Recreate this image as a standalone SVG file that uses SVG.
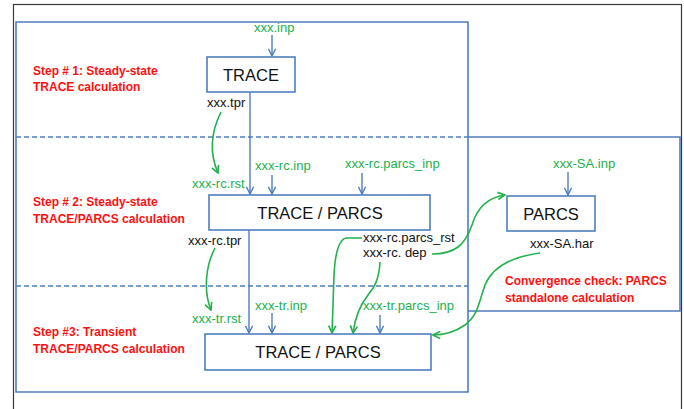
<svg xmlns="http://www.w3.org/2000/svg" width="684" height="409" viewBox="0 0 684 409">
<defs>
<style>
.frame{fill:none;stroke:#3a3a3a;stroke-width:1.2}
.blue{fill:none;stroke:#4f7dbd;stroke-width:1.6}
.dash{fill:none;stroke:#4f7dbd;stroke-width:1.6;stroke-dasharray:5 3}
.box{fill:#fff;stroke:#4f7dbd;stroke-width:1.6}
.ba{fill:none;stroke:#4f7dbd;stroke-width:1.4;marker-end:url(#ab)}
.ga{fill:none;stroke:#22b14c;stroke-width:1.6;marker-end:url(#ag)}
.bt{font-family:"Liberation Sans",Arial,sans-serif;font-size:16.5px;fill:#111;text-anchor:middle}
.g{font-family:"Liberation Sans",Arial,sans-serif;font-size:13px;fill:#22b14c}
.k{font-family:"Liberation Sans",Arial,sans-serif;font-size:13px;fill:#111}
.r{font-family:"Liberation Sans",Arial,sans-serif;font-size:12px;font-weight:bold;fill:#ff1010}
</style>
<marker id="ab" viewBox="0 0 10 10" refX="9" refY="5" markerWidth="9" markerHeight="9" markerUnits="userSpaceOnUse" orient="auto">
<path d="M1,1 L9,5 L1,9" fill="none" stroke="#4f7dbd" stroke-width="1.6"/>
</marker>
<marker id="ag" viewBox="0 0 10 10" refX="9" refY="5" markerWidth="9" markerHeight="9" markerUnits="userSpaceOnUse" orient="auto">
<path d="M1,1 L9,5 L1,9" fill="none" stroke="#22b14c" stroke-width="1.8"/>
</marker>
</defs>
<rect x="0" y="0" width="684" height="409" fill="#fff"/>
<rect class="frame" x="13.5" y="4.5" width="668" height="420"/>
<g id="frames">
<path class="blue" d="M16,22 H468 V392 H16 Z"/>
<path class="blue" d="M468,137 H680 V311 H468"/>
<path class="dash" d="M16,137 H468"/>
<path class="dash" d="M16,286 H468"/>
</g>
<g id="steps">
<text class="r" x="33" y="75">Step # 1: Steady-state</text>
<text class="r" x="33" y="91">TRACE calculation</text>
<text class="r" x="33" y="206">Step # 2: Steady-state</text>
<text class="r" x="33" y="223">TRACE/PARCS calculation</text>
<text class="r" x="33" y="336">Step #3: Transient</text>
<text class="r" x="33" y="353">TRACE/PARCS calculation</text>
<text class="r" x="505" y="285">Convergence check: PARCS</text>
<text class="r" x="505" y="302">standalone calculation</text>
</g>
<g id="connectors">
<path class="ba" d="M272,35 V56"/>
<path class="ba" d="M250,92 V194"/>
<path class="ba" d="M272,175 V194"/>
<path class="ba" d="M362,173 V194"/>
<path class="ba" d="M568,172 V195"/>
<path class="ba" d="M249,230 V333"/>
<path class="ba" d="M272,313 V333"/>
<path class="ba" d="M380,315 V333"/>
<path class="ga" d="M221,112 C212,130 208,150 218,173"/>
<path class="ga" d="M215,248 C206,265 203,290 211,310"/>
<path class="ga" d="M362,238 L346,238 C338,240 335,255 334,275 L332,333"/>
<path class="ga" d="M380,262 C379,280 374,288 368,295 C360,305 355,318 353,333"/>
<path class="ga" d="M432,254 C455,254 465,245 472,225 C478,205 490,197 505,195"/>
<path class="ga" d="M540,253 C510,257 492,268 485,285 C478,305 478,315 465,325 C455,332 445,335 433,335"/>
</g>
<g id="trace">
<rect class="box" x="207" y="57" width="88" height="35"/>
<text class="bt" x="251" y="81">TRACE</text>
</g>
<g id="tp1">
<rect class="box" x="209" y="195" width="221" height="35"/>
<text class="bt" x="320" y="219">TRACE / PARCS</text>
</g>
<g id="parcs">
<rect class="box" x="507" y="196" width="88" height="35"/>
<text class="bt" x="551" y="220">PARCS</text>
</g>
<g id="tp2">
<rect class="box" x="205" y="334" width="226" height="36"/>
<text class="bt" x="318" y="358">TRACE / PARCS</text>
</g>
<g id="labels">
<text class="g" x="254" y="32">xxx.inp</text>
<text class="k" x="207" y="107">xxx.tpr</text>
<text class="g" x="192" y="188">xxx-rc.rst</text>
<text class="g" x="255" y="170">xxx-rc.inp</text>
<text class="g" x="345" y="168">xxx-rc.parcs_inp</text>
<text class="g" x="553" y="168">xxx-SA.inp</text>
<text class="k" x="188" y="245">xxx-rc.tpr</text>
<text class="k" x="363" y="242">xxx-rc.parcs_rst</text>
<text class="k" x="363" y="257">xxx-rc. dep</text>
<text class="k" x="530" y="248">xxx-SA.har</text>
<text class="g" x="192" y="323">xxx-tr.rst</text>
<text class="g" x="255" y="310">xxx-tr.inp</text>
<text class="g" x="363" y="310">xxx-tr.parcs_inp</text>
</g>
</svg>
